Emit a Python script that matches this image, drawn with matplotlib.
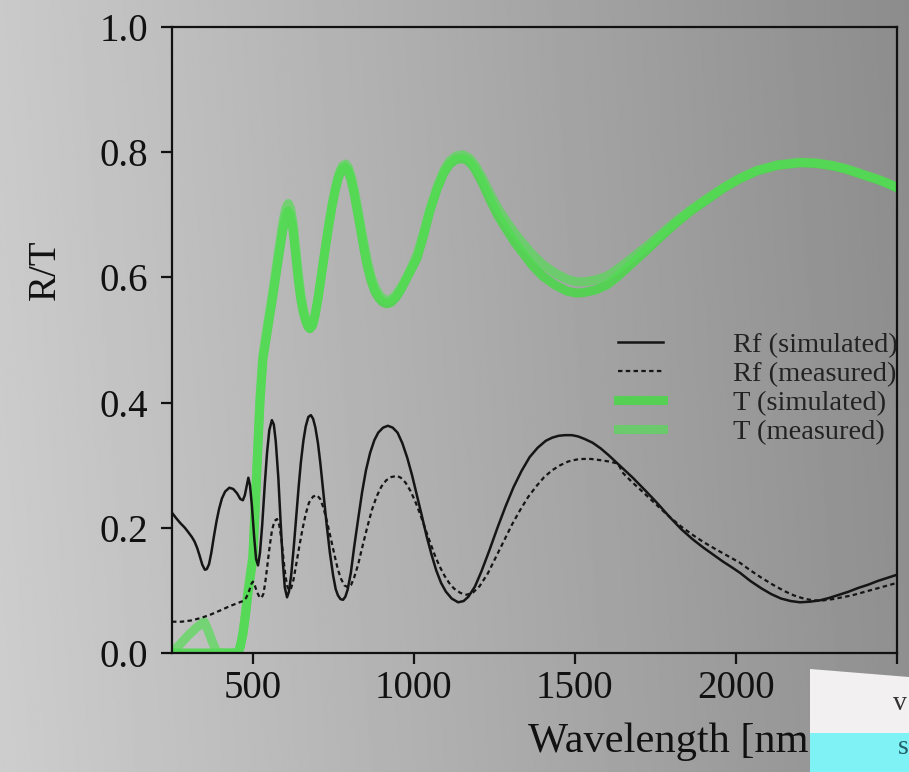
import numpy as np
import matplotlib
matplotlib.use("Agg")
import matplotlib.pyplot as plt
from matplotlib.patches import Polygon, Rectangle

plt.rcParams['font.family'] = ['Liberation Serif', 'DejaVu Serif']

# Rf (simulated)
rf_sim_wl = [250, 262, 275, 290, 302, 312, 320, 328, 336, 344, 352, 358, 365, 372, 380,
             388, 396, 405, 415, 428, 440, 452, 462, 470, 476, 482, 487, 492, 498, 505,
             511, 517, 523, 530, 538, 545, 552, 560, 566, 572, 580, 587, 594, 600, 607,
             613, 620, 628, 635, 643, 650, 658, 665, 673, 681, 688, 695, 703, 710, 720,
             730, 740, 750, 758, 765, 773, 781, 788, 795, 805, 815, 828, 840, 852, 865,
             878, 890, 905, 920, 935, 950, 965, 980, 995, 1010, 1025, 1040, 1055, 1070,
             1085, 1100, 1118, 1138, 1155, 1170, 1190, 1210, 1235, 1260, 1285, 1310, 1335,
             1360, 1385, 1410, 1430, 1450, 1470, 1491, 1510, 1530, 1555, 1580, 1605, 1630,
             1655, 1680, 1718, 1755, 1793, 1830, 1865, 1900, 1930, 1960, 1990, 2013, 2045,
             2080, 2110, 2140, 2170, 2199, 2230, 2260, 2290, 2320, 2350, 2380, 2410, 2440,
             2470, 2500]
rf_sim = [0.224, 0.216, 0.208, 0.200, 0.192, 0.185, 0.178, 0.168, 0.155, 0.141, 0.133,
          0.134, 0.142, 0.160, 0.186, 0.210, 0.230, 0.247, 0.258, 0.264, 0.262, 0.255,
          0.246, 0.244, 0.252, 0.267, 0.280, 0.268, 0.235, 0.185, 0.150, 0.140, 0.160,
          0.205, 0.270, 0.320, 0.356, 0.372, 0.365, 0.338, 0.280, 0.210, 0.145, 0.105,
          0.089, 0.098, 0.125, 0.170, 0.215, 0.265, 0.305, 0.340, 0.362, 0.377, 0.380,
          0.374, 0.360, 0.335, 0.305, 0.255, 0.205, 0.160, 0.124, 0.102, 0.092, 0.086,
          0.085, 0.090, 0.101, 0.128, 0.168, 0.215, 0.257, 0.292, 0.320, 0.340, 0.352,
          0.360, 0.363, 0.360, 0.352, 0.335, 0.312, 0.284, 0.252, 0.220, 0.187, 0.158,
          0.132, 0.112, 0.098, 0.087, 0.081, 0.083, 0.090, 0.106, 0.130, 0.164, 0.200,
          0.234, 0.265, 0.291, 0.313, 0.328, 0.339, 0.344, 0.347, 0.348, 0.348, 0.346,
          0.342, 0.336, 0.327, 0.316, 0.304, 0.292, 0.280, 0.260, 0.240, 0.218, 0.198,
          0.182, 0.168, 0.157, 0.146, 0.136, 0.128, 0.115, 0.103, 0.094, 0.087, 0.083,
          0.081, 0.082, 0.084, 0.088, 0.093, 0.098, 0.104, 0.109, 0.115, 0.120, 0.125]

# Rf (measured)
rf_meas_wl = [250, 280, 310, 340, 368, 400, 430, 455, 470, 480, 490, 496, 501, 507, 514,
              522, 528, 534, 540, 546, 553, 560, 568, 576, 583, 590, 596, 602, 608, 614,
              620, 627, 635, 645, 655, 665, 675, 688, 700, 710, 720, 730, 742, 755, 765,
              775, 785, 796, 806, 815, 828, 840, 855, 870, 885, 900, 915, 930, 948, 960,
              975, 990, 1005, 1020, 1035, 1050, 1065, 1080, 1095, 1110, 1125, 1145, 1165,
              1185, 1205, 1230, 1255, 1280, 1305, 1330, 1355, 1380, 1405, 1430, 1455, 1480,
              1505, 1526, 1550, 1580, 1605, 1631, 1640, 1647, 1660, 1680, 1718, 1755, 1793,
              1830, 1865, 1900, 1940, 1975, 2013, 2045, 2080, 2115, 2150, 2180, 2210, 2240,
              2270, 2300, 2330, 2360, 2395, 2430, 2465, 2500]
rf_meas = [0.050, 0.050, 0.052, 0.056, 0.061, 0.068, 0.075, 0.080, 0.083, 0.088, 0.100,
           0.110, 0.114, 0.108, 0.097, 0.089, 0.088, 0.095, 0.115, 0.140, 0.170, 0.195,
           0.211, 0.214, 0.204, 0.180, 0.150, 0.123, 0.106, 0.100, 0.104, 0.117, 0.140,
           0.170, 0.198, 0.222, 0.240, 0.250, 0.252, 0.246, 0.232, 0.212, 0.185, 0.155,
           0.133, 0.118, 0.108, 0.105, 0.109, 0.120, 0.142, 0.168, 0.199, 0.228, 0.250,
           0.266, 0.276, 0.281, 0.283, 0.280, 0.272, 0.259, 0.242, 0.222, 0.200, 0.178,
           0.157, 0.139, 0.124, 0.112, 0.103, 0.096, 0.093, 0.097, 0.107, 0.127, 0.153,
           0.179, 0.205, 0.228, 0.249, 0.266, 0.281, 0.292, 0.300, 0.306, 0.309, 0.310,
           0.310, 0.308, 0.306, 0.303, 0.297, 0.289, 0.282, 0.272, 0.254, 0.236, 0.218,
           0.202, 0.189, 0.177, 0.165, 0.155, 0.144, 0.132, 0.120, 0.109, 0.099, 0.092,
           0.087, 0.084, 0.084, 0.086, 0.089, 0.092, 0.097, 0.102, 0.107, 0.112]

# T (simulated)
t_sim_wl = [250, 455, 462, 470, 478, 486, 494, 501, 508, 515, 523, 532, 547, 563, 578,
            594, 603, 610, 617, 625, 633, 641, 649, 657, 665, 672, 678, 686, 694, 703,
            714, 724, 735, 746, 757, 767, 777, 787, 796, 805, 815, 825, 835, 845, 856,
            868, 880, 893, 905, 917, 930, 945, 960, 975, 990, 1010, 1030, 1050, 1072,
            1092, 1110, 1130, 1153, 1172, 1190, 1212, 1237, 1262, 1290, 1315, 1340, 1370,
            1400, 1438, 1476, 1505, 1530, 1565, 1600, 1630, 1660, 1692, 1724, 1765, 1810,
            1860, 1910, 1960, 2010, 2065, 2130, 2199, 2250, 2300, 2340, 2376, 2410, 2440,
            2470, 2500]
t_sim = [0.0, 0.0, 0.010, 0.030, 0.060, 0.096, 0.125, 0.150, 0.230, 0.310, 0.400, 0.468,
         0.518, 0.570, 0.622, 0.676, 0.697, 0.706, 0.700, 0.678, 0.640, 0.600, 0.567,
         0.545, 0.530, 0.521, 0.518, 0.523, 0.540, 0.566, 0.605, 0.640, 0.678, 0.712,
         0.740, 0.760, 0.772, 0.776, 0.771, 0.757, 0.734, 0.706, 0.677, 0.647, 0.618,
         0.594, 0.577, 0.566, 0.560, 0.558, 0.560, 0.568, 0.580, 0.595, 0.610, 0.630,
         0.665, 0.705, 0.740, 0.765, 0.780, 0.788, 0.790, 0.785, 0.773, 0.752, 0.724,
         0.698, 0.675, 0.655, 0.638, 0.618, 0.602, 0.588, 0.578, 0.575, 0.576, 0.580,
         0.588, 0.600, 0.614, 0.629, 0.644, 0.664, 0.685, 0.706, 0.724, 0.742, 0.757,
         0.770, 0.779, 0.783, 0.782, 0.778, 0.773, 0.767, 0.761, 0.756, 0.750, 0.743]

# T (measured)
t_meas_wl = [250, 275, 300, 325, 350, 362, 375, 390, 455, 462, 470, 478, 486, 494, 501,
             508, 515, 523, 532, 547, 563, 578, 594, 603, 611, 618, 626, 634, 642, 650,
             658, 666, 673, 680, 688, 696, 705, 716, 726, 737, 748, 759, 769, 779, 789,
             798, 807, 817, 827, 837, 847, 858, 870, 882, 895, 907, 920, 933, 948, 963,
             978, 993, 1012, 1032, 1052, 1074, 1094, 1112, 1132, 1152, 1172, 1190, 1212,
             1237, 1262, 1290, 1315, 1340, 1370, 1400, 1438, 1476, 1505, 1530, 1565, 1600,
             1630, 1660, 1692, 1724, 1765, 1810, 1860, 1910, 1960, 2010, 2065, 2130, 2199,
             2250, 2300, 2340, 2376, 2410, 2440, 2470, 2500]
t_meas = [0.0, 0.014, 0.028, 0.040, 0.050, 0.036, 0.018, 0.0, 0.0, 0.012, 0.032, 0.064,
          0.100, 0.130, 0.156, 0.236, 0.318, 0.408, 0.476, 0.526, 0.578, 0.632, 0.688,
          0.710, 0.718, 0.710, 0.686, 0.646, 0.606, 0.573, 0.549, 0.533, 0.524, 0.520,
          0.526, 0.545, 0.572, 0.612, 0.648, 0.686, 0.720, 0.748, 0.767, 0.778, 0.781,
          0.775, 0.760, 0.736, 0.708, 0.679, 0.650, 0.622, 0.598, 0.582, 0.571, 0.565,
          0.563, 0.566, 0.574, 0.586, 0.600, 0.616, 0.638, 0.674, 0.712, 0.746, 0.771,
          0.786, 0.794, 0.796, 0.791, 0.780, 0.760, 0.734, 0.710, 0.688, 0.670, 0.654,
          0.636, 0.621, 0.607, 0.597, 0.593, 0.593, 0.596, 0.602, 0.612, 0.624, 0.637,
          0.650, 0.668, 0.688, 0.708, 0.726, 0.743, 0.758, 0.771, 0.780, 0.784, 0.783,
          0.779, 0.774, 0.768, 0.762, 0.757, 0.751, 0.744]

x_ticks = [500, 1000, 1500, 2000, 2500]
x_tick_labels = ['500', '1000', '1500', '2000', '']
y_ticks = [0.0, 0.2, 0.4, 0.6, 0.8, 1.0]

W, H = 909, 772
fig = plt.figure(figsize=(W / 100, H / 100), dpi=100)

# grey gradient background of the scanned page
bg = fig.add_axes([0, 0, 1, 1], zorder=-2)
gx = np.linspace(0.79, 0.55, 400)
gy = np.linspace(0.0, 0.015, 100)[:, None]
bg.imshow(gx[None, :] + gy, cmap='gray', vmin=0, vmax=1, aspect='auto',
          extent=[0, 1, 0, 1], interpolation='bilinear')
bg.axis('off')

ax = fig.add_axes([172 / W, 1 - 653 / H, (897 - 172) / W, (653 - 27) / H])
ax.set_facecolor('none')

ax.plot(t_sim_wl, t_sim, color='#48d948', lw=6.5, alpha=0.85, solid_joinstyle='round',
        label='T (simulated)')
ax.plot(t_meas_wl, t_meas, color='#55dc55', lw=6.5, alpha=0.7, solid_joinstyle='round',
        label='T (measured)')
ax.plot(rf_sim_wl, rf_sim, color='#151515', lw=1.8, label='Rf (simulated)')
ax.plot(rf_meas_wl, rf_meas, color='#151515', lw=1.6, linestyle=(0, (2.0, 1.5)),
        label='Rf (measured)')

ax.set_xlim(250, 2500)
ax.set_ylim(0, 1.0)
ax.set_xticks(x_ticks)
ax.set_xticklabels(x_tick_labels)
ax.set_yticks(y_ticks)
ax.set_yticklabels([f'{v:.1f}' for v in y_ticks])

for s in ax.spines.values():
    s.set_linewidth(1.6)
    s.set_color('#111111')
ax.tick_params(axis='both', direction='out', length=8, width=1.6, colors='#111111',
               labelsize=28)
ax.tick_params(axis='x', pad=4)
ax.tick_params(axis='y', pad=9)

handles, labels = ax.get_legend_handles_labels()
order = [2, 3, 0, 1]
ax.legend([handles[i] for i in order], [labels[i] for i in order],
          loc='upper left', bbox_to_anchor=(0.615, 0.512), frameon=False,
          fontsize=20.5, handlelength=1.6, handletextpad=2.43, labelspacing=0.1,
          borderpad=0, borderaxespad=0, labelcolor='#222222')

fig.text(45 / W, 1 - 270 / H, 'R/T', rotation=90, ha='center', va='center',
         fontsize=28, color='#111111')
fig.text(528 / W, 1 - 742 / H, 'Wavelength [nm]', ha='left', va='center',
         fontsize=30.5, color='#111111')

# piece of the neighbouring figure overlapping the bottom right corner
white = Polygon([[810 / W, 1 - 669 / H], [909 / W, 1 - 677 / H], [909 / W, 1 - 733 / H],
                 [810 / W, 1 - 733 / H]], closed=True, transform=fig.transFigure,
                facecolor='#f3f0f2', edgecolor='none', zorder=5)
cyan = Rectangle((810 / W, 0), 99 / W, (772 - 733) / H, transform=fig.transFigure,
                 facecolor='#7ff2f6', edgecolor='none', zorder=5)
fig.patches.extend([white, cyan])
fig.text(893 / W, 1 - 703 / H, 'v', fontsize=20, color='#333333', ha='left',
         va='center', zorder=6)
fig.text(898 / W, 1 - 748 / H, 's', fontsize=20, color='#1f5f66', ha='left',
         va='center', zorder=6)

fig.savefig('out.png', dpi=100)
